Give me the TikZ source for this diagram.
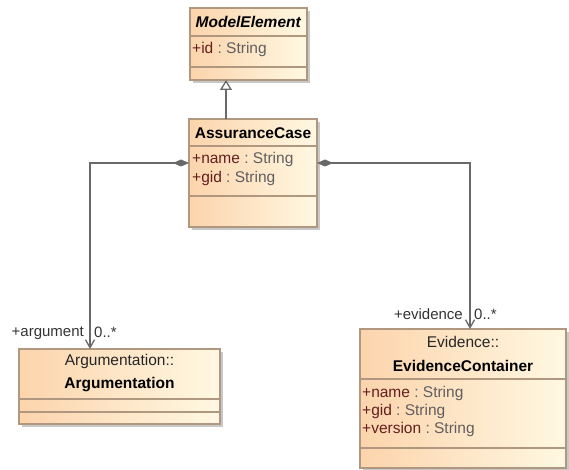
\documentclass[tikz,border=0pt]{standalone}
\usepackage{fontspec}
\setmainfont{Liberation Sans}
\usetikzlibrary{arrows.meta,shadows}
\definecolor{bordc}{RGB}{176,152,128}
\definecolor{peachL}{RGB}{252,212,172}
\definecolor{peachR}{RGB}{255,248,226}
\definecolor{shadowc}{RGB}{200,200,200}
\definecolor{attrc}{RGB}{100,30,30}
\definecolor{typec}{RGB}{95,95,95}
\definecolor{connc}{RGB}{105,105,105}
\tikzset{
  cls/.style={draw=bordc, line width=1.1pt, left color=peachL, right color=peachR,
    anchor=north west, inner sep=0pt, outer sep=0pt,
    drop shadow={shadow xshift=3pt, shadow yshift=-3pt, fill=shadowc, opacity=1}},
  sepline/.style={draw=bordc, line width=1.1pt},
  txt/.style={font=\fontsize{15.5}{18}\selectfont, inner sep=0pt},
  attr/.style={txt, anchor=west},
  lbl/.style={font=\fontsize{15}{17}\selectfont, inner sep=0pt, text=black!80},
  conn/.style={draw=connc, line width=1.3pt},
}
\newcommand{\attrline}[1]{\textcolor{attrc}{+#1}\textcolor{typec}{\ :\ String}}
\begin{document}
\begin{tikzpicture}[x=1pt,y=-1pt]
\useasboundingbox (0,0) rectangle (569,470);
% ModelElement
\node[cls, minimum width=117pt, minimum height=72pt] (me) at (190,8) {};
\draw[sepline] ([yshift=-28pt]me.north west) -- ([yshift=-28pt]me.north east);
\draw[sepline] ([yshift=-59pt]me.north west) -- ([yshift=-59pt]me.north east);
\node[txt] (meT) at (248.5,22) {\textbf{\textit{ModelElement}}};
\node[attr] (meA) at (192,49) {\attrline{id}};
% AssuranceCase
\node[cls, minimum width=128pt, minimum height=108pt] (ac) at (189,119) {};
\draw[sepline] ([yshift=-27pt]ac.north west) -- ([yshift=-27pt]ac.north east);
\draw[sepline] ([yshift=-77pt]ac.north west) -- ([yshift=-77pt]ac.north east);
\node[txt] (acT) at (253,133) {\textbf{AssuranceCase}};
\node[attr] (acA1) at (192,159) {\attrline{name}};
\node[attr] (acA2) at (192,178) {\attrline{gid}};
% Argumentation
\node[cls, minimum width=201pt, minimum height=75pt] (arg) at (19,349) {};
\draw[sepline] ([yshift=-50pt]arg.north west) -- ([yshift=-50pt]arg.north east);
\draw[sepline] ([yshift=-63pt]arg.north west) -- ([yshift=-63pt]arg.north east);
\node[txt, text=black!85] (argP) at (119.5,361) {Argumentation::};
\node[txt] (argT) at (119.5,385) {\textbf{Argumentation}};
% EvidenceContainer
\node[cls, minimum width=206pt, minimum height=139pt] (ev) at (360,329) {};
\draw[sepline] ([yshift=-50pt]ev.north west) -- ([yshift=-50pt]ev.north east);
\draw[sepline] ([yshift=-119pt]ev.north west) -- ([yshift=-119pt]ev.north east);
\node[txt, text=black!85] (evP) at (463,342) {Evidence::};
\node[txt] (evT) at (463,366) {\textbf{EvidenceContainer}};
\node[attr] (evA1) at (362,393) {\attrline{name}};
\node[attr] (evA2) at (362,411) {\attrline{gid}};
\node[attr] (evA3) at (362,429) {\attrline{version}};
% Generalization
\draw[conn, -{Triangle[open, length=10pt, width=12pt, fill=white]}]
  ([xshift=-27pt]ac.north) -- ([xshift=-22.5pt]me.south);
% Compositions
\draw[conn, {Diamond[length=16pt, width=7pt, fill=connc]}-{Straight Barb[length=8pt, width=9pt]}]
  ([yshift=10pt]ac.west) -| ([xshift=-29.5pt]arg.north);
\draw[conn, {Diamond[length=16pt, width=7pt, fill=connc]}-{Straight Barb[length=8pt, width=9pt]}]
  ([yshift=10pt]ac.east) -| ([xshift=7pt]ev.north);
% Role labels
\node[lbl, anchor=east] (argRole) at (84,333) {+argument};
\node[lbl, anchor=west] (argMult) at (94,332) {0..*};
\node[lbl, anchor=east] (evRole) at (463,314) {+evidence};
\node[lbl, anchor=west] (evMult) at (474,314) {0..*};
\end{tikzpicture}
\end{document}
